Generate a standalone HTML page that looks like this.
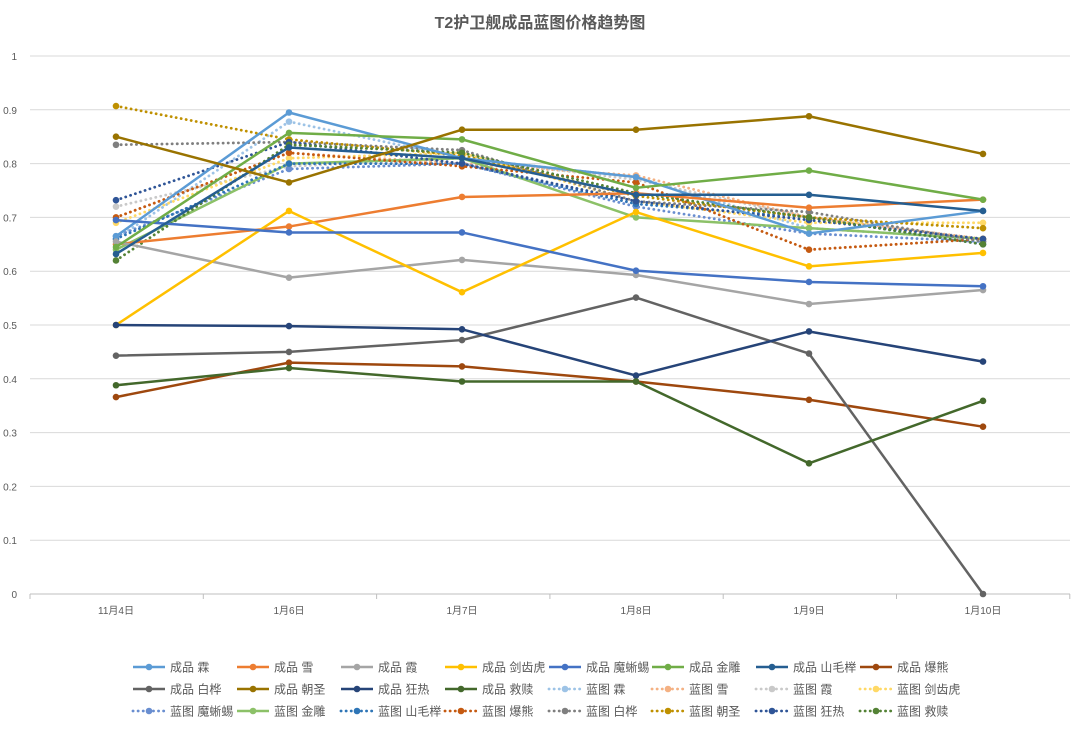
<!DOCTYPE html>
<html><head><meta charset="utf-8"><style>
body{margin:0;background:#fff;font-family:"Liberation Sans","Noto Sans CJK SC",sans-serif;}
</style></head><body>
<svg id="s" width="1080" height="729" xmlns="http://www.w3.org/2000/svg" font-family="Liberation Sans, Noto Sans CJK SC, sans-serif">
<rect width="1080" height="729" fill="#fff"/>
<text x="540" y="28" text-anchor="middle" font-size="16" font-weight="bold" fill="#595959">T2护卫舰成品蓝图价格趋势图</text>
<g id="g"></g>
</svg>
<script>
var NS="http://www.w3.org/2000/svg",g=document.getElementById("g");
function el(t,a,txt){var e=document.createElementNS(NS,t);for(var k in a)e.setAttribute(k,a[k]);if(txt!=null)e.textContent=txt;g.appendChild(e);return e;}
function Y(v){return 594-v*538;}
var X=[116,289,462,636,809,983];
for(var i=0;i<=10;i++){var y=Y(i/10);el("line",{x1:30,x2:1070,y1:y,y2:y,stroke:i?"#d9d9d9":"#bfbfbf","stroke-width":1});
el("text",{x:17,y:y+4,"text-anchor":"end","font-size":10,fill:"#595959"},i==0?"0":i==10?"1":"0."+i);}
for(var i=0;i<=6;i++){var x=30+i*173.3;el("line",{x1:x,x2:x,y1:594,y2:599,stroke:"#bfbfbf"});}
var cats=["11月4日","1月6日","1月7日","1月8日","1月9日","1月10日"];
cats.forEach(function(c,i){el("text",{x:X[i],y:614,"text-anchor":"middle","font-size":10,fill:"#595959"},c);});
var S=[
["成品 霖","#5B9BD5",0,[0.665,0.895,0.81,0.775,0.67,0.712]],
["成品 雪","#ED7D31",0,[0.65,0.683,0.738,0.745,0.718,0.733]],
["成品 霞","#A5A5A5",0,[0.655,0.588,0.621,0.593,0.539,0.565]],
["成品 剑齿虎","#FFC000",0,[0.5,0.712,0.561,0.71,0.609,0.634]],
["成品 魔蜥蜴","#4472C4",0,[0.695,0.672,0.672,0.601,0.58,0.572]],
["成品 金雕","#70AD47",0,[0.645,0.857,0.845,0.755,0.787,0.733]],
["成品 山毛榉","#255E91",0,[0.632,0.83,0.81,0.742,0.742,0.712]],
["成品 爆熊","#9E480E",0,[0.366,0.43,0.423,0.395,0.361,0.311]],
["成品 白桦","#636363",0,[0.443,0.45,0.472,0.551,0.447,0.0]],
["成品 朝圣","#997300",0,[0.85,0.765,0.863,0.863,0.888,0.818]],
["成品 狂热","#264478",0,[0.5,0.498,0.492,0.406,0.488,0.432]],
["成品 救赎","#43682B",0,[0.388,0.42,0.395,0.395,0.243,0.359]],
["蓝图 霖","#9DC3E6",1,[0.66,0.878,0.81,0.775,0.68,0.66]],
["蓝图 雪","#F4B183",1,[0.7,0.82,0.8,0.778,0.7,0.66]],
["蓝图 霞","#C9C9C9",1,[0.72,0.795,0.81,0.77,0.7,0.66]],
["蓝图 剑齿虎","#FFD966",1,[0.69,0.81,0.82,0.73,0.69,0.69]],
["蓝图 魔蜥蜴","#698ED0",1,[0.665,0.79,0.8,0.72,0.67,0.655]],
["蓝图 金雕","#8CC168",0,[0.64,0.8,0.81,0.7,0.68,0.66]],
["蓝图 山毛榉","#2E75B6",1,[0.66,0.8,0.8,0.725,0.7,0.65]],
["蓝图 爆熊","#C55A11",1,[0.7,0.82,0.795,0.765,0.64,0.66]],
["蓝图 白桦","#7F7F7F",1,[0.835,0.84,0.825,0.73,0.71,0.655]],
["蓝图 朝圣","#BF9000",1,[0.907,0.845,0.815,0.74,0.7,0.68]],
["蓝图 狂热","#2F5597",1,[0.732,0.84,0.8,0.73,0.695,0.66]],
["蓝图 救赎","#548235",1,[0.62,0.835,0.82,0.745,0.7,0.65]]];
var order=S.slice(12).concat(S.slice(0,12));
order.forEach(function(s){var p=s[3].map(function(v,i){return X[i]+","+Y(v)}).join(" ");
var a={points:p,fill:"none",stroke:s[1],"stroke-width":2.5,"stroke-linejoin":"round"};
if(s[2]){a["stroke-dasharray"]="0.1 5";a["stroke-linecap"]="round";a["stroke-width"]=2.8;}
el("polyline",a);s[3].forEach(function(v,i){el("circle",{cx:X[i],cy:Y(v),r:3.3,fill:s[1]});});});
var lx=[133,237,341,445,549,652,756,860],ly=[667,689,711];
S.forEach(function(s,k){var r=Math.floor(k/8),c=k%8,x=lx[c],y=ly[r];
var a={x1:x,x2:x+32,y1:y,y2:y,stroke:s[1],"stroke-width":2.5};
if(s[2]){a["stroke-dasharray"]="0.1 5";a["stroke-linecap"]="round";a["stroke-width"]=2.8;}
el("line",a);el("circle",{cx:x+16,cy:y,r:3.3,fill:s[1]});
el("text",{x:x+37,y:y+4.5,"font-size":12,fill:"#595959"},s[0]);});
</script>
</body></html>
